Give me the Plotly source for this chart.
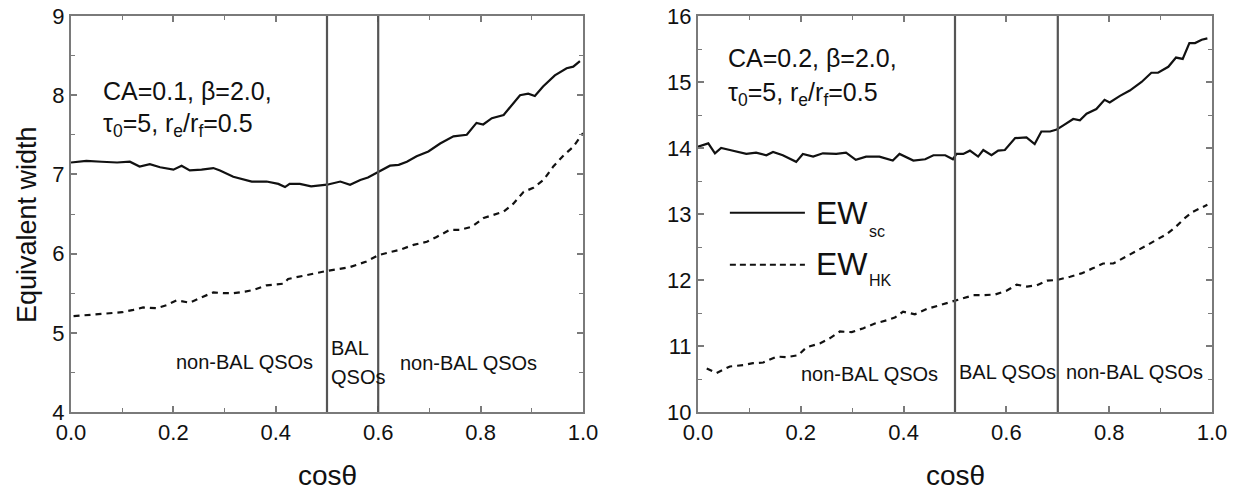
import plotly.graph_objects as go

# ---- CA = 0.1 model -------------------------------------------------------
cos_sc_a = [0.0, 0.03, 0.06, 0.09, 0.115, 0.134, 0.154, 0.174, 0.2, 0.216, 0.232, 0.255,
            0.278, 0.291, 0.317, 0.335, 0.353, 0.382, 0.405, 0.418, 0.427, 0.447, 0.469,
            0.5, 0.526, 0.545, 0.565, 0.58, 0.6, 0.623, 0.64, 0.656, 0.675, 0.698, 0.721,
            0.747, 0.773, 0.792, 0.805, 0.822, 0.845, 0.877, 0.893, 0.906, 0.922, 0.945,
            0.968, 0.981, 0.994]
ew_sc_a = [7.15, 7.17, 7.16, 7.15, 7.16, 7.10, 7.13, 7.09, 7.06, 7.11, 7.05, 7.06,
           7.08, 7.05, 6.97, 6.94, 6.91, 6.91, 6.88, 6.84, 6.88, 6.88, 6.85,
           6.87, 6.91, 6.87, 6.93, 6.96, 7.03, 7.11, 7.12, 7.16, 7.23, 7.29, 7.39,
           7.48, 7.50, 7.65, 7.63, 7.71, 7.75, 8.00, 8.02, 7.99, 8.11, 8.25,
           8.34, 8.36, 8.43]

cos_hk_a = [0.005, 0.04, 0.077, 0.10, 0.122, 0.141, 0.167, 0.187, 0.206, 0.232, 0.252,
            0.278, 0.30, 0.317, 0.34, 0.356, 0.382, 0.415, 0.424, 0.46, 0.499, 0.545,
            0.577, 0.6, 0.623, 0.643, 0.669, 0.695, 0.714, 0.74, 0.76, 0.783, 0.806,
            0.825, 0.845, 0.864, 0.884, 0.903, 0.923, 0.942, 0.962, 0.981, 1.0]
ew_hk_a = [5.21, 5.23, 5.25, 5.26, 5.29, 5.32, 5.31, 5.35, 5.41, 5.38, 5.44,
           5.51, 5.50, 5.50, 5.52, 5.54, 5.60, 5.62, 5.68, 5.73, 5.78, 5.83,
           5.90, 5.98, 6.02, 6.05, 6.11, 6.15, 6.21, 6.30, 6.30, 6.34, 6.45,
           6.49, 6.53, 6.63, 6.78, 6.83, 6.93, 7.10, 7.24, 7.35, 7.52]

bal_edges_a = [0.5, 0.6]

# ---- CA = 0.2 model -------------------------------------------------------
cos_sc_b = [0.0, 0.02, 0.033, 0.045, 0.062, 0.081, 0.094, 0.113, 0.133, 0.146, 0.165,
            0.191, 0.204, 0.224, 0.243, 0.269, 0.288, 0.307, 0.327, 0.353, 0.379, 0.392,
            0.419, 0.442, 0.458, 0.481, 0.496, 0.503, 0.516, 0.529, 0.545, 0.555, 0.571,
            0.584, 0.597, 0.617, 0.639, 0.655, 0.668, 0.685, 0.698, 0.71, 0.73, 0.743,
            0.756, 0.775, 0.791, 0.801, 0.821, 0.84, 0.863, 0.882, 0.895, 0.915, 0.93,
            0.943, 0.956, 0.967, 0.98, 0.991]
ew_sc_b = [14.02, 14.07, 13.92, 14.00, 13.97, 13.94, 13.91, 13.93, 13.89, 13.94, 13.89,
           13.79, 13.91, 13.87, 13.92, 13.91, 13.93, 13.82, 13.87, 13.87, 13.81, 13.91,
           13.81, 13.83, 13.89, 13.89, 13.83, 13.91, 13.91, 13.96, 13.87, 13.97, 13.89,
           13.96, 13.97, 14.15, 14.16, 14.06, 14.25, 14.25, 14.28, 14.34, 14.44, 14.42,
           14.52, 14.59, 14.73, 14.69, 14.79, 14.87, 15.00, 15.14, 15.14, 15.23, 15.37,
           15.35, 15.59, 15.59, 15.64, 15.66]

cos_hk_b = [0.017, 0.036, 0.062, 0.088, 0.107, 0.127, 0.153, 0.172, 0.195, 0.211, 0.237,
            0.257, 0.276, 0.299, 0.322, 0.344, 0.367, 0.383, 0.399, 0.422, 0.445, 0.471,
            0.497, 0.516, 0.536, 0.555, 0.578, 0.601, 0.62, 0.64, 0.659, 0.679, 0.698,
            0.724, 0.746, 0.769, 0.788, 0.808, 0.827, 0.853, 0.872, 0.892, 0.911, 0.93,
            0.946, 0.962, 0.978, 0.991]
ew_hk_b = [10.66, 10.59, 10.69, 10.71, 10.74, 10.75, 10.84, 10.83, 10.86, 10.98, 11.04,
           11.12, 11.22, 11.21, 11.27, 11.34, 11.39, 11.43, 11.52, 11.48, 11.56, 11.62,
           11.67, 11.72, 11.77, 11.77, 11.78, 11.84, 11.93, 11.90, 11.92, 11.99, 12.00,
           12.05, 12.10, 12.18, 12.25, 12.25, 12.33, 12.43, 12.52, 12.61, 12.69, 12.81,
           12.93, 13.03, 13.09, 13.14]

bal_edges_b = [0.5, 0.7]

x_ticks = [0.0, 0.2, 0.4, 0.6, 0.8, 1.0]
x_tick_text = ["0.0", "0.2", "0.4", "0.6", "0.8", "1.0"]

FONT = "Liberation Sans, Arial, Helvetica, sans-serif"
INK = "#111111"
AXIS = "#7a7a7a"
DASH = "6px,5px"

fig = go.Figure()

fig.add_trace(go.Scatter(x=cos_sc_a, y=ew_sc_a, mode="lines", xaxis="x", yaxis="y",
                         line=dict(color=INK, width=2.2), showlegend=False))
fig.add_trace(go.Scatter(x=cos_hk_a, y=ew_hk_a, mode="lines", xaxis="x", yaxis="y",
                         line=dict(color=INK, width=2.2, dash=DASH), showlegend=False))
fig.add_trace(go.Scatter(x=cos_sc_b, y=ew_sc_b, mode="lines", xaxis="x2", yaxis="y2",
                         line=dict(color=INK, width=2.2), showlegend=False))
fig.add_trace(go.Scatter(x=cos_hk_b, y=ew_hk_b, mode="lines", xaxis="x2", yaxis="y2",
                         line=dict(color=INK, width=2.2, dash=DASH), showlegend=False))

W, H = 1241, 494
y_dom = [1 - 412 / H, 1 - 16 / H]


def xaxis_cfg(left, right, anchor):
    return dict(domain=[left / W, right / W], anchor=anchor, range=[0, 1],
                tickvals=x_ticks, ticktext=x_tick_text, ticks="inside", ticklen=6,
                tickwidth=1.5, tickcolor=AXIS, mirror="allticks", showline=True,
                linecolor=AXIS, linewidth=2, showgrid=False, zeroline=False,
                minor=dict(dtick=0.1, tick0=0, ticks="inside", ticklen=4,
                           tickcolor=AXIS, tickwidth=1.2),
                tickfont=dict(family=FONT, size=22, color=INK), automargin=False)


def yaxis_cfg(lo, hi, anchor):
    return dict(domain=y_dom, anchor=anchor, range=[lo, hi], dtick=1, tick0=lo,
                ticks="inside", ticklen=6, tickwidth=1.5, tickcolor=AXIS,
                mirror="allticks", showline=True, linecolor=AXIS, linewidth=2,
                showgrid=False, zeroline=False,
                minor=dict(dtick=0.5, tick0=lo, ticks="inside", ticklen=4,
                           tickcolor=AXIS, tickwidth=1.2),
                tickfont=dict(family=FONT, size=22, color=INK), automargin=False)


fig.update_layout(
    width=W, height=H,
    margin=dict(l=0, r=0, t=0, b=0),
    paper_bgcolor="white", plot_bgcolor="white",
    xaxis=xaxis_cfg(71, 583, "y"),
    yaxis=yaxis_cfg(4, 9, "x"),
    xaxis2=xaxis_cfg(698, 1212, "y2"),
    yaxis2=yaxis_cfg(10, 16, "x2"),
)

# BAL region boundaries
shapes = []
for xv in bal_edges_a:
    shapes.append(dict(type="line", xref="x", yref="y domain", x0=xv, x1=xv, y0=0, y1=1,
                       line=dict(color="#555555", width=2.2)))
for xv in bal_edges_b:
    shapes.append(dict(type="line", xref="x2", yref="y2 domain", x0=xv, x1=xv, y0=0, y1=1,
                       line=dict(color="#555555", width=2.2)))

# legend keys
shapes.append(dict(type="line", xref="x2", yref="y2", x0=0.062, x1=0.208, y0=13.02, y1=13.02,
                   line=dict(color=INK, width=2)))
shapes.append(dict(type="line", xref="x2", yref="y2", x0=0.062, x1=0.208, y0=12.23, y1=12.23,
                   line=dict(color=INK, width=2, dash="6px,4px")))
fig.update_layout(shapes=shapes)


def txt(text, x, y, xref, yref, size, xanchor="left", yanchor="middle", angle=0):
    return dict(text=text, x=x, y=y, xref=xref, yref=yref, showarrow=False,
                xanchor=xanchor, yanchor=yanchor, textangle=angle,
                font=dict(family=FONT, size=size, color=INK))


ann = [
    # parameters
    txt("CA=0.1, β=2.0,", 0.058, 8.05, "x", "y", 25),
    txt("τ<sub>0</sub>=5, r<sub>e</sub>/r<sub>f</sub>=0.5", 0.058, 7.62, "x", "y", 25),
    txt("CA=0.2, β=2.0,", 0.054, 15.36, "x2", "y2", 25),
    txt("τ<sub>0</sub>=5, r<sub>e</sub>/r<sub>f</sub>=0.5", 0.054, 14.82, "x2", "y2", 25),
    # regions
    txt("non-BAL QSOs", 0.338, 4.63, "x", "y", 20, xanchor="center"),
    txt("BAL", 0.503, 4.81, "x", "y", 20),
    txt("QSOs", 0.503, 4.44, "x", "y", 20),
    txt("non-BAL QSOs", 0.777, 4.62, "x", "y", 20, xanchor="center"),
    txt("non-BAL QSOs", 0.333, 10.58, "x2", "y2", 20, xanchor="center"),
    txt("BAL QSOs", 0.603, 10.6, "x2", "y2", 20, xanchor="center"),
    txt("non-BAL QSOs", 0.85, 10.6, "x2", "y2", 20, xanchor="center"),
    # legend labels
    txt("EW", 0.226, 13.02, "x2", "y2", 32),
    txt("sc", 0.329, 12.73, "x2", "y2", 16),
    txt("EW", 0.226, 12.25, "x2", "y2", 32),
    txt("HK", 0.329, 11.99, "x2", "y2", 16),
    # axis titles
    txt("cosθ", (71 + 583) / 2 / W, 1 - 475 / H, "paper", "paper", 28, xanchor="center"),
    txt("cosθ", (698 + 1212) / 2 / W, 1 - 475 / H, "paper", "paper", 28, xanchor="center"),
    txt("Equivalent width", 27 / W, 1 - 225 / H, "paper", "paper", 27,
        xanchor="center", angle=-90),
]
fig.update_layout(annotations=ann)

fig.write_html("out.html")
